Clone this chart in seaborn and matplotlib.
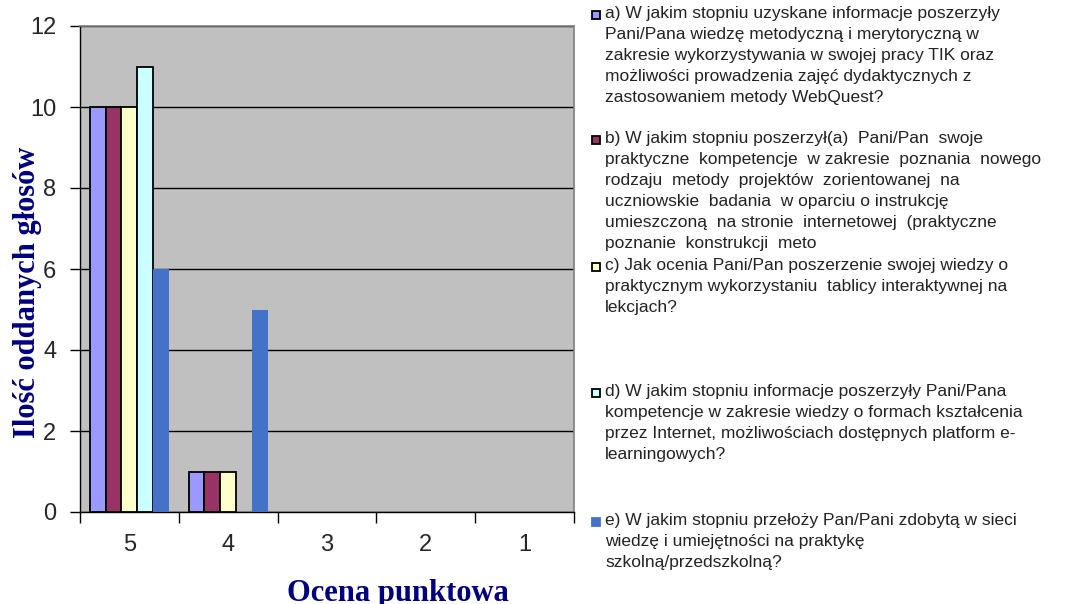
import pandas as pd
import seaborn as sns
import matplotlib.pyplot as plt
from matplotlib.patches import Rectangle

# oceny i liczba glosow
oceny = ['5', '4', '3', '2', '1']
pyt_a = [10, 1, 0, 0, 0]
pyt_b = [10, 1, 0, 0, 0]
pyt_c = [10, 1, 0, 0, 0]
pyt_d = [11, 0, 0, 0, 0]
pyt_e = [6, 5, 0, 0, 0]

etykiety = [
    "a) W jakim stopniu uzyskane informacje poszerzyły\nPani/Pana wiedzę metodyczną i merytoryczną w\n"
    "zakresie wykorzystywania w swojej pracy TIK oraz\nmożliwości prowadzenia zajęć dydaktycznych z\n"
    "zastosowaniem metody WebQuest?",
    "b) W jakim stopniu poszerzył(a)  Pani/Pan  swoje\npraktyczne  kompetencje  w zakresie  poznania  nowego\n"
    "rodzaju  metody  projektów  zorientowanej  na\nuczniowskie  badania  w oparciu o instrukcję\n"
    "umieszczoną  na stronie  internetowej  (praktyczne\npoznanie  konstrukcji  meto",
    "c) Jak ocenia Pani/Pan poszerzenie swojej wiedzy o\npraktycznym wykorzystaniu  tablicy interaktywnej na\nlekcjach?",
    "d) W jakim stopniu informacje poszerzyły Pani/Pana\nkompetencje w zakresie wiedzy o formach kształcenia\n"
    "przez Internet, możliwościach dostępnych platform e-\nlearningowych?",
    "e) W jakim stopniu przełoży Pan/Pani zdobytą w sieci\nwiedzę i umiejętności na praktykę\nszkolną/przedszkolną?",
]
kolory = ['#9999FF', '#993366', '#FFFFCC', '#CCFFFF', '#4472C8']

rows = []
for lab, vals in zip(etykiety, [pyt_a, pyt_b, pyt_c, pyt_d, pyt_e]):
    for o, v in zip(oceny, vals):
        rows.append([o, v, lab])
df = pd.DataFrame(rows, columns=['Ocena', 'Glosy', 'Pytanie'])

sns.set_style('white')
plt.rcParams['font.family'] = ['Liberation Sans', 'DejaVu Sans']

fig = plt.figure(figsize=(10.72, 6.04), dpi=100)
ax = fig.add_axes([80/1072, 1-512/604, 494/1072, 486/604])
ax.set_facecolor('#C0C0C0')

sns.barplot(data=df, x='Ocena', y='Glosy', hue='Pytanie', order=oceny,
            hue_order=etykiety, palette=kolory, width=0.8, gap=0,
            saturation=1, legend=False, ax=ax, zorder=3)

for i, cont in enumerate(ax.containers):
    for bar in cont:
        if i < 4 and bar.get_height() > 0:
            bar.set_edgecolor('black')
            bar.set_linewidth(1.3)
        else:
            bar.set_edgecolor('none')

ax.set_ylim(0, 12)
ax.set_xlim(-0.5, 4.5)
ax.set_yticks(range(0, 13, 2))
ax.yaxis.grid(True, color='black', linewidth=1, zorder=1)
ax.set_axisbelow(True)
ax.set_xlabel('')
ax.set_ylabel('')

for s in ['top', 'right']:
    ax.spines[s].set_color('#808080')
    ax.spines[s].set_linewidth(1.2)
for s in ['left', 'bottom']:
    ax.spines[s].set_color('black')
    ax.spines[s].set_linewidth(1)

ax.tick_params(axis='y', which='major', direction='out', length=7, width=1,
               pad=10, labelsize=17, left=True, color='black')
ax.tick_params(axis='x', which='major', length=0, pad=16, labelsize=17)
ax.set_xticks([x - 0.5 for x in range(6)], minor=True)
ax.tick_params(axis='x', which='minor', direction='out', length=8, width=1,
               bottom=True, color='black')

# opisy osi
fig.text(28/1072, 1-292/604, 'Ilość oddanych głosów', rotation=90, ha='center',
         va='center', fontsize=22, fontweight='bold', color='#00007F',
         family=['Liberation Serif', 'DejaVu Serif'])
fig.text(398/1072, 1-579/604, 'Ocena punktowa', ha='center', va='top',
         fontsize=22, fontweight='bold', color='#00007F',
         family=['Liberation Serif', 'DejaVu Serif'])

# legenda
pozycje = [15, 140, 267, 393, 522]
for i, (lab, kol, y) in enumerate(zip(etykiety, kolory, pozycje)):
    ec = 'black' if i < 4 else kol
    fig.patches.append(Rectangle((592/1072, 1-(y+4)/604), 8/1072, 8/604,
                                 transform=fig.transFigure, facecolor=kol,
                                 edgecolor=ec, linewidth=1.3))
    fig.text(605/1072, 1-(y-9)/604, lab, ha='left', va='top', fontsize=12.5,
             color='#222222', linespacing=1.5)

fig.savefig('out.png', dpi=100)
